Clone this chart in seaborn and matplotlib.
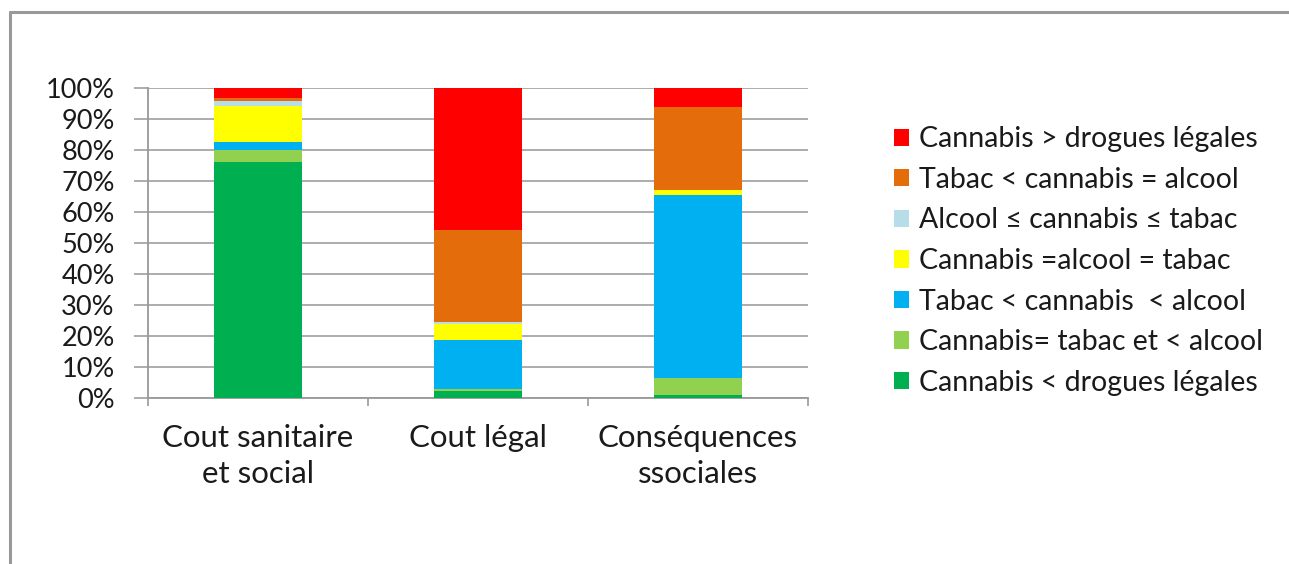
import matplotlib
matplotlib.use("Agg")
import matplotlib.pyplot as plt
import seaborn as sns
import pandas as pd
import numpy as np
from matplotlib.patches import Patch
from matplotlib.lines import Line2D
from matplotlib.ticker import FixedLocator

categories = ["Cout sanitaire\net social", "Cout légal", "Conséquences\nssociales"]
series_names = [
    "Cannabis < drogues légales",
    "Cannabis= tabac et < alcool",
    "Tabac < cannabis  < alcool",
    "Cannabis =alcool = tabac",
    "Alcool \u2264 cannabis \u2264 tabac",
    "Tabac < cannabis = alcool",
    "Cannabis > drogues légales",
]
s_inf_legales = [76.0, 2.4, 1.1]
s_egal_tabac = [4.1, 0.5, 5.3]
s_tabac_cann_alc = [2.4, 15.7, 59.2]
s_tous_egaux = [11.7, 5.4, 1.6]
s_alc_cann_tab = [1.5, 0.5, 0.0]
s_tab_cann_eq_alc = [1.1, 29.7, 26.8]
s_sup_legales = [3.2, 45.8, 6.0]
colors = ["#00B050", "#92D050", "#00B0F0", "#FFFF00", "#B7DDE8", "#E46C0A", "#FF0000"]

series = [s_inf_legales, s_egal_tabac, s_tabac_cann_alc, s_tous_egaux,
          s_alc_cann_tab, s_tab_cann_eq_alc, s_sup_legales]

sns.set_theme(style="white")
plt.rcParams["font.family"] = ["Lato", "DejaVu Sans"]

fig = plt.figure(figsize=(12.89, 5.64), dpi=100)
ax = fig.add_axes([148/1289, 1-398/564, 660/1289, 310/564])

cum = np.cumsum(np.array(series), axis=0)
for i in range(len(series)-1, -1, -1):
    df = pd.DataFrame({"cat": categories, "val": cum[i]})
    sns.barplot(data=df, x="cat", y="val", color=colors[i], width=0.4,
                saturation=1, ax=ax, zorder=3, linewidth=0)

ax.set_ylim(0, 100)
ax.set_xlim(-0.5, 2.5)
ax.set_yticks(np.arange(0, 101, 10))
ax.set_yticklabels([f"{v}%" for v in range(0, 101, 10)], fontsize=19.5, color="#1a1a1a")
ax.yaxis.grid(True, color="#A6A6A6", linewidth=1.3, zorder=0)
ax.set_axisbelow(True)
ax.set_xlabel("")
ax.set_ylabel("")
ax.tick_params(axis="x", labelsize=22.5, colors="#1a1a1a", length=0, pad=19)
ax.xaxis.set_minor_locator(FixedLocator([-0.5, 0.5, 1.5, 2.5]))
ax.tick_params(axis="x", which="minor", length=6, color="#999999", width=1.2, direction="out", bottom=True)
ax.tick_params(axis="y", length=10, color="#A6A6A6", width=1.3, direction="out", left=True, pad=14)
for t in ax.get_xticklabels():
    t.set_linespacing(1.32)
for side in ["top", "right"]:
    ax.spines[side].set_visible(False)
for side in ["left", "bottom"]:
    ax.spines[side].set_color("#999999")
    ax.spines[side].set_linewidth(1.3)

handles = [Patch(facecolor=colors[i], edgecolor="none", label=series_names[i])
           for i in range(len(series)-1, -1, -1)]
fig.legend(handles=handles, loc="center left", bbox_to_anchor=(868/1289, 1-261/564),
           frameon=False, fontsize=20.5, handlelength=0.55, handleheight=0.55,
           handletextpad=0.35, labelspacing=0.51, labelcolor="#1a1a1a")

fig.add_artist(Line2D([10/1289, 1.0], [1-12/564, 1-12/564], transform=fig.transFigure,
                      color="#999999", linewidth=2.2))
fig.add_artist(Line2D([10/1289, 10/1289], [0, 1-12/564], transform=fig.transFigure,
                      color="#999999", linewidth=2.2))

fig.savefig("out.png", dpi=100, facecolor="white")
